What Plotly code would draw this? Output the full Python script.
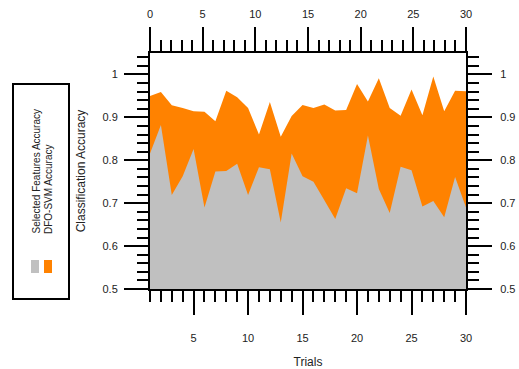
import plotly.graph_objects as go

trials = list(range(1, 31))
dfo_svm_acc = [0.950, 0.959, 0.928, 0.922, 0.914, 0.913, 0.891, 0.962, 0.947, 0.922,
               0.860, 0.936, 0.855, 0.903, 0.929, 0.922, 0.930, 0.916, 0.917, 0.978,
               0.937, 0.991, 0.922, 0.904, 0.965, 0.905, 0.995, 0.914, 0.962, 0.961]
selected_acc = [0.816, 0.882, 0.719, 0.763, 0.826, 0.690, 0.774, 0.775, 0.792, 0.719,
                0.784, 0.779, 0.655, 0.816, 0.763, 0.750, 0.707, 0.663, 0.735, 0.723,
                0.858, 0.733, 0.677, 0.785, 0.777, 0.692, 0.705, 0.667, 0.761, 0.690]
series_names = ["Selected Features Accuracy", "DFO-SVM Accuracy"]
series_colors = ["#C0C0C0", "#FF8200"]

W, H = 519, 369
L, R, T, B = 150, 466, 53, 289
FONT = "Liberation Sans, Arial, sans-serif"

def xp(px):
    return (px - L) / (R - L)

def yp(py):
    return (B - py) / (B - T)

fig = go.Figure()
fig.add_trace(go.Scatter(x=trials, y=dfo_svm_acc, mode="lines", line=dict(width=0),
                         fill="tozeroy", fillcolor=series_colors[1], name=series_names[1],
                         showlegend=False))
fig.add_trace(go.Scatter(x=trials, y=selected_acc, mode="lines", line=dict(width=0),
                         fill="tozeroy", fillcolor=series_colors[0], name=series_names[0],
                         showlegend=False))
# helper trace so secondary axes render
fig.add_trace(go.Scatter(x=[0, 30], y=[0.5, 0.5], mode="none", xaxis="x2", yaxis="y2",
                         showlegend=False, hoverinfo="skip"))

yr = [0.5, 1.05]
common_tick = dict(ticks="outside", ticklen=24, tickwidth=2, tickcolor="black",
                   showline=True, linewidth=2, linecolor="black", showgrid=False,
                   zeroline=False, automargin=False,
                   tickfont=dict(family=FONT, size=11, color="#222"))
minor_x = dict(dtick=1, ticks="outside", ticklen=11, tickwidth=2, tickcolor="black", showgrid=False)
minor_y = dict(dtick=0.02, ticks="outside", ticklen=11, tickwidth=2, tickcolor="black", showgrid=False)

fig.update_layout(
    width=W, height=H,
    margin=dict(l=L, r=W - R, t=T, b=H - B),
    paper_bgcolor="white", plot_bgcolor="white",
    font=dict(family=FONT, size=11, color="#222"),
    xaxis=dict(range=[1, 30], tick0=0, dtick=5, minor=minor_x, ticklabelstandoff=14,
               title=dict(text="Trials", font=dict(family=FONT, size=12), standoff=16),
               **common_tick),
    xaxis2=dict(range=[0, 30], tick0=0, dtick=5, minor=minor_x, overlaying="x", side="top",
                ticklabelstandoff=5, **common_tick),
    yaxis=dict(range=yr, tick0=0.5, dtick=0.1, minor=minor_y, ticklabelstandoff=4,
               title=dict(text="Classification Accuracy", font=dict(family=FONT, size=12), standoff=14),
               **common_tick),
    yaxis2=dict(range=yr, tick0=0.5, dtick=0.1, minor=minor_y, overlaying="y", side="right",
                ticklabelstandoff=6, **common_tick),
)

# rotated legend box
fig.add_shape(type="rect", xref="paper", yref="paper",
              x0=xp(13), x1=xp(69), y0=yp(299), y1=yp(84),
              line=dict(color="black", width=2), fillcolor="white")
fig.add_shape(type="rect", xref="paper", yref="paper",
              x0=xp(31), x1=xp(39), y0=yp(273), y1=yp(260),
              line=dict(width=0), fillcolor=series_colors[0])
fig.add_shape(type="rect", xref="paper", yref="paper",
              x0=xp(44), x1=xp(52), y0=yp(273), y1=yp(260),
              line=dict(width=0), fillcolor=series_colors[1])
for name, cx in zip(series_names, [36, 48.5]):
    fig.add_annotation(text=name, xref="paper", yref="paper", x=xp(cx), y=yp(236),
                       xanchor="center", yanchor="bottom", textangle=-90, showarrow=False,
                       font=dict(family=FONT, size=10, color="#222"))

fig.write_html("out.html")
